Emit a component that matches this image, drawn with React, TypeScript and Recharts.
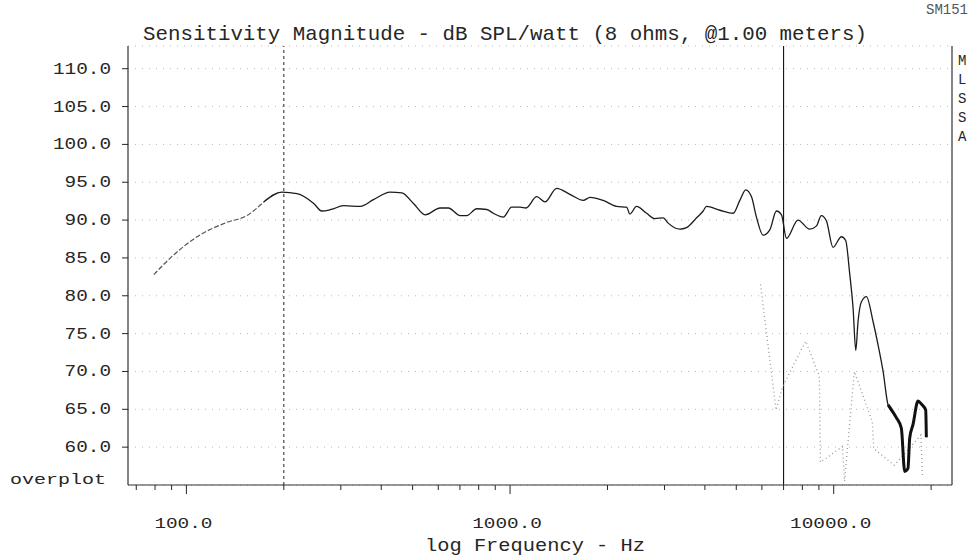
import React from "react";
import {
  LineChart,
  Line,
  XAxis,
  YAxis,
  CartesianGrid,
  ReferenceLine,
} from "recharts";

// ---- data ----
const freqHz = [
  79.3, 90.3, 107.9, 133.5, 153.9, 173.3, 197.3, 219.6, 247.4, 262, 280, 305.9,
  344.4, 378.4, 426, 463, 503, 547, 608, 645, 701, 735, 789, 847, 888, 953,
  1011, 1074, 1120, 1209, 1282, 1393, 1531, 1684, 1766, 1940, 2133, 2291,
  2346, 2459, 2642, 2803, 2974, 3081, 3347, 3509, 3770, 3951, 4045, 4451,
  4892, 5128, 5348, 5568, 5771, 6049, 6346, 6653, 6897, 7144, 7757, 8427,
  8837, 9157, 9493, 9951, 10560, 10890, 11200, 11480, 11700, 11890, 12180,
  12620, 13230, 13710, 14210, 14720, 15610, 16180, 16570, 16960, 17170,
  17580, 18220, 18660, 19240, 19330,
];
const splDb = [
  82.8, 85.2, 87.8, 89.7, 90.6, 92.4, 93.7, 93.5, 92.2, 91.2, 91.4, 91.9,
  91.8, 92.7, 93.7, 93.6, 92.2, 90.7, 91.6, 91.6, 90.6, 90.6, 91.5, 91.4, 90.9,
  90.4, 91.7, 91.7, 91.6, 93.1, 92.4, 94.2, 93.4, 92.6, 93.0, 92.6, 91.8, 91.7,
  90.8, 91.8, 90.9, 90.2, 90.3, 89.6, 88.8, 89.0, 90.3, 91.2, 91.8, 91.3,
  90.9, 92.6, 94.0, 93.1, 90.4, 88.0, 88.7, 91.2, 90.7, 87.6, 90.0, 88.8,
  89.2, 90.6, 89.9, 86.4, 87.8, 87.3, 83.0, 78.3, 72.8, 76.6, 79.2,
  79.9, 76.6, 73.5, 70.0, 65.6, 63.9, 62.5, 56.8, 57.2, 61.2,
  63.0, 66.1, 65.7, 64.9, 61.3,
];
const overplotHz = [5940, 6637, 6955, 8190, 9028, 9100, 10650, 10800, 11580, 13150, 13300, 15380, 18600, 18800];
const overplotDb = [81.5, 64.9, 68.0, 74.0, 69.4, 58.0, 60.1, 55.5, 70.0, 63.4, 59.8, 57.6, 61.6, 56.0];

const yTicks = [60, 65, 70, 75, 80, 85, 90, 95, 100, 105, 110];
const xTicks = [
  70, 80, 90, 100, 200, 300, 400, 500, 600, 700, 800, 900, 1000, 2000, 3000,
  4000, 5000, 6000, 7000, 8000, 9000, 10000, 20000,
];
const xLabelTicks = [100, 1000, 10000];
const cursorDashedHz = 200;
const cursorSolidHz = 7000;
const xDomain = [66, 23200];
const yDomain = [55, 113];

const titleText = "Sensitivity Magnitude - dB SPL/watt (8 ohms, @1.00 meters)";
const xAxisTitle = "log Frequency - Hz";
const sideLetters = ["M", "L", "S", "S", "A"];
const cornerTag = "SM151";

// ---- layout ----
const W = 972;
const H = 556;
const PLOT = { left: 128, right: 952, top: 46, bottom: 485 };
const INK = "#262626";
const FRAME = "#333";
const MONO = "'Liberation Mono', 'DejaVu Sans Mono', monospace";

const mainData = freqHz.map((f, i) => ({ f, db: splDb[i] }));
const lowData = mainData.filter((d) => d.f <= 173.3);
const hiData = mainData.filter((d) => d.f >= 173.3);
const tailData = mainData.filter((d) => d.f >= 14720);
const overData = overplotHz.map((f, i) => ({ f, db: overplotDb[i] }));

function XTick(props: any) {
  const { x, payload } = props;
  const v = payload.value as number;
  const major = xLabelTicks.includes(v);
  const label = v.toFixed(1);
  return (
    <g>
      <line x1={x} x2={x} y1={PLOT.bottom} y2={PLOT.bottom + (major ? 9 : 5)} stroke={INK} strokeWidth={1} />
      {major && (
        <text
          x={x - 3}
          y={528}
          textAnchor="middle"
          fontFamily={MONO}
          fontSize={14}
          fill={INK}
          textLength={label.length * 11.6}
          lengthAdjust="spacingAndGlyphs"
        >
          {label}
        </text>
      )}
    </g>
  );
}

function YTick(props: any) {
  const { y, payload } = props;
  const label = (payload.value as number).toFixed(1);
  return (
    <g>
      <line x1={122} x2={PLOT.left} y1={y} y2={y} stroke={INK} strokeWidth={1} />
      <text
        x={111}
        y={y + 5}
        textAnchor="end"
        fontFamily={MONO}
        fontSize={16}
        fill={INK}
        textLength={label.length * 11.6}
        lengthAdjust="spacingAndGlyphs"
      >
        {label}
      </text>
    </g>
  );
}

export default function App() {
  return (
    <div style={{ position: "absolute", left: 0, top: 0, width: W, height: H, background: "#fff" }}>
      <LineChart
        width={W}
        height={H}
        margin={{ top: PLOT.top, right: 0, left: 0, bottom: 0 }}
      >
        <CartesianGrid horizontal vertical={false} stroke="#b8b8b8" strokeDasharray="1 6" />
        <XAxis
          dataKey="f"
          type="number"
          scale="log"
          domain={xDomain}
          allowDataOverflow
          ticks={xTicks}
          interval={0}
          height={H - PLOT.bottom}
          axisLine={{ stroke: FRAME, strokeWidth: 1.2 }}
          tickLine={false}
          tick={<XTick />}
        />
        <XAxis
          xAxisId="top"
          orientation="top"
          dataKey="f"
          type="number"
          scale="log"
          domain={xDomain}
          allowDataOverflow
          height={0}
          axisLine={{ stroke: FRAME, strokeWidth: 1.2 }}
          tickLine={false}
          tick={false}
        />
        <YAxis
          type="number"
          domain={yDomain}
          allowDataOverflow
          ticks={yTicks}
          interval={0}
          width={PLOT.left}
          axisLine={{ stroke: FRAME, strokeWidth: 1.2 }}
          tickLine={false}
          tick={<YTick />}
        />
        <YAxis
          yAxisId="right"
          orientation="right"
          type="number"
          domain={yDomain}
          allowDataOverflow
          width={W - PLOT.right}
          axisLine={{ stroke: FRAME, strokeWidth: 1.2 }}
          tickLine={false}
          tick={false}
        />
        <ReferenceLine x={cursorDashedHz} stroke="#222" strokeDasharray="3 3" strokeWidth={1} />
        <ReferenceLine x={cursorSolidHz} stroke="#111" strokeWidth={1.1} />
        <Line
          data={overData}
          dataKey="db"
          type="linear"
          stroke="#9a9a9a"
          strokeWidth={1.3}
          strokeDasharray="1 3"
          dot={false}
          isAnimationActive={false}
        />
        <Line
          data={lowData}
          dataKey="db"
          type="monotone"
          stroke="#555"
          strokeWidth={1.2}
          strokeDasharray="5 2"
          dot={false}
          isAnimationActive={false}
        />
        <Line
          data={hiData}
          dataKey="db"
          type="monotone"
          stroke="#1c1c1c"
          strokeWidth={1.3}
          dot={false}
          isAnimationActive={false}
        />
        <Line
          data={tailData}
          dataKey="db"
          type="monotone"
          stroke="#111"
          strokeWidth={3}
          dot={false}
          isAnimationActive={false}
        />
      </LineChart>
      <svg
        width={W}
        height={H}
        style={{ position: "absolute", left: 0, top: 0, pointerEvents: "none" }}
      >
        <text x={926} y={14} fontFamily={MONO} fontSize={14} fill="#555" textLength={42} lengthAdjust="spacingAndGlyphs">
          {cornerTag}
        </text>
        <text
          x={143}
          y={40}
          fontFamily={MONO}
          fontSize={21}
          fill={INK}
          textLength={724}
          lengthAdjust="spacingAndGlyphs"
        >
          {titleText}
        </text>
        {sideLetters.map((c, i) => (
          <text key={i} x={958} y={65 + i * 19} fontFamily={MONO} fontSize={14} fill={INK}>
            {c}
          </text>
        ))}
        <text
          x={10}
          y={484}
          fontFamily={MONO}
          fontSize={15}
          fill={INK}
          textLength={96}
          lengthAdjust="spacingAndGlyphs"
        >
          overplot
        </text>
        <text
          x={535}
          y={551}
          textAnchor="middle"
          fontFamily={MONO}
          fontSize={18}
          fill={INK}
          textLength={220}
          lengthAdjust="spacingAndGlyphs"
        >
          {xAxisTitle}
        </text>
      </svg>
    </div>
  );
}
